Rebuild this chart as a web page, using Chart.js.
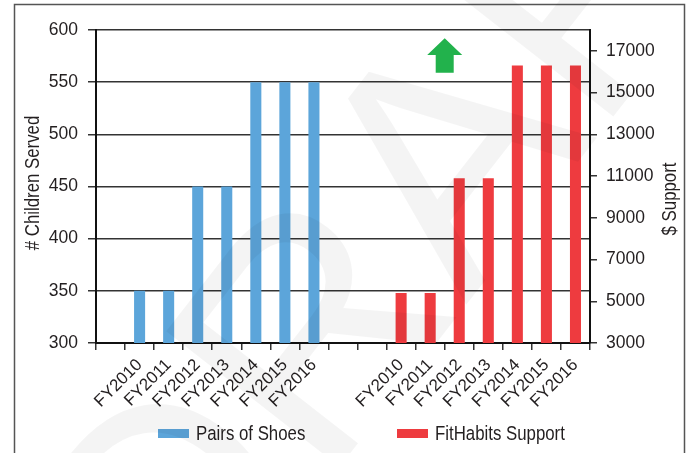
<!DOCTYPE html>
<html>
<head>
<meta charset="utf-8">
<script src="https://cdn.jsdelivr.net/npm/chart.js@4.4.1/dist/chart.umd.min.js"></script>
<style>
  html, body { margin: 0; padding: 0; background: #fff; }
</style>
</head>
<body>
<canvas id="chart" width="687" height="453"></canvas>
<script>
// chart data
const CATEGORIES = ['', 'FY2010', 'FY2011', 'FY2012', 'FY2013', 'FY2014', 'FY2015', 'FY2016', '', '',
  'FY2010', 'FY2011', 'FY2012', 'FY2013', 'FY2014', 'FY2015', 'FY2016'];
const SHOES = [null, 350, 350, 450, 450, 550, 550, 550, null, null,
  null, null, null, null, null, null, null];
const SUPPORT = [null, null, null, null, null, null, null, null, null, null,
  5400, 5400, 10900, 10900, 16300, 16300, 16300];
const LEFT_TICKS = [300, 350, 400, 450, 500, 550, 600];
const RIGHT_TICKS = [3000, 5000, 7000, 9000, 11000, 13000, 15000, 17000];
const SERIES_NAMES = ['Pairs of Shoes', 'FitHabits Support'];
const LEFT_TITLE = '# Children Served';
const RIGHT_TITLE = '$ Support';

const BLUE = '#5ca5da';
const RED = '#ee3b3f';
const GREEN = '#22b24c';
const INK = '#231f20';
const FONT = "'Liberation Sans', Arial, sans-serif";

Chart.defaults.font.family = FONT;
Chart.defaults.color = INK;

// text squeezed sideways, the source uses a narrow face
function narrowText(ctx, text, x, y, angle, align) {
  ctx.save();
  ctx.translate(x, y);
  ctx.rotate(angle);
  ctx.scale(0.82, 1);
  ctx.textAlign = align;
  ctx.textBaseline = 'middle';
  ctx.font = '20.5px ' + FONT;
  ctx.fillText(text, 0, 0);
  ctx.restore();
}

const decor = {
  id: 'decor',
  beforeDraw(chart) {
    const { ctx, width, height } = chart;
    ctx.save();
    ctx.fillStyle = '#fff';
    ctx.fillRect(0, 0, width, height);
    // outer frame (open at the bottom)
    ctx.strokeStyle = '#555';
    ctx.lineWidth = 1.5;
    ctx.beginPath();
    ctx.moveTo(14.5, height);
    ctx.lineTo(14.5, 4.5);
    ctx.lineTo(684.5, 4.5);
    ctx.lineTo(684.5, height);
    ctx.stroke();
    ctx.restore();
  },
  afterDraw(chart) {
    const { ctx } = chart;
    const x = chart.scales.x;
    const y = chart.scales.y;
    ctx.save();

    // axis titles, both reading bottom to top
    ctx.fillStyle = INK;
    narrowText(ctx, LEFT_TITLE, 33, 183, -Math.PI / 2, 'center');
    narrowText(ctx, RIGHT_TITLE, 670, 199, -Math.PI / 2, 'center');

    // green up arrow
    const cx = x.getPixelForValue(11.5);
    const tip = y.getPixelForValue(592);
    const base = y.getPixelForValue(576);
    const foot = y.getPixelForValue(559);
    ctx.fillStyle = GREEN;
    ctx.beginPath();
    ctx.moveTo(cx, tip);
    ctx.lineTo(cx + 17.5, base);
    ctx.lineTo(cx + 9, base);
    ctx.lineTo(cx + 9, foot);
    ctx.lineTo(cx - 9, foot);
    ctx.lineTo(cx - 9, base);
    ctx.lineTo(cx - 17.5, base);
    ctx.closePath();
    ctx.fill();

    // legend
    const legendX = [158, 397];
    chart.data.datasets.forEach((ds, i) => {
      ctx.fillStyle = ds.backgroundColor;
      ctx.fillRect(legendX[i], 429, 31, 9);
      ctx.fillStyle = INK;
      narrowText(ctx, ds.label, legendX[i] + 38, 434, 0, 'left');
    });

    // DRAFT watermark
    ctx.fillStyle = 'rgba(0,0,0,0.045)';
    ctx.font = '320px ' + FONT;
    ctx.textAlign = 'center';
    ctx.textBaseline = 'middle';
    ctx.translate(440, 195);
    ctx.rotate(-52 * Math.PI / 180);
    ctx.fillText('DRAFT', 0, 0);
    ctx.restore();
  }
};

new Chart(document.getElementById('chart'), {
  type: 'bar',
  data: {
    labels: CATEGORIES,
    datasets: [
      { label: SERIES_NAMES[0], data: SHOES, yAxisID: 'y', backgroundColor: BLUE },
      { label: SERIES_NAMES[1], data: SUPPORT, yAxisID: 'y1', backgroundColor: RED },
    ],
  },
  options: {
    responsive: false,
    animation: false,
    devicePixelRatio: 1,
    layout: { padding: { top: 30, bottom: 40, left: 0, right: 0 } },
    datasets: {
      bar: { grouped: false, barPercentage: 0.38, categoryPercentage: 1, borderWidth: 0 },
    },
    plugins: {
      legend: { display: false },
      tooltip: { enabled: false },
    },
    scales: {
      x: {
        grid: { drawOnChartArea: false, drawTicks: true, tickLength: 7, color: '#333', lineWidth: 1.5, offset: true },
        border: { display: true, color: '#111', width: 2 },
        ticks: { autoSkip: false, minRotation: 45, maxRotation: 45, padding: 5, color: INK, font: { size: 17 } },
        afterFit: (s) => { s.height = 70; },
      },
      y: {
        position: 'left',
        min: 300,
        max: 600,
        afterBuildTicks: (s) => { s.ticks = LEFT_TICKS.map((v) => ({ value: v })); },
        grid: { color: '#333', lineWidth: 1.5, tickLength: 8 },
        border: { display: true, color: '#111', width: 2 },
        ticks: { padding: 10, color: INK, font: { size: 17.5 } },
        afterFit: (s) => { s.width = 96; },
      },
      y1: {
        position: 'right',
        min: 3000,
        max: 18000,
        afterBuildTicks: (s) => { s.ticks = RIGHT_TICKS.map((v) => ({ value: v })); },
        grid: { drawOnChartArea: false, color: '#333', lineWidth: 1.5, tickLength: 7 },
        border: { display: true, color: '#111', width: 2 },
        ticks: { padding: 9, color: INK, font: { size: 17.5 }, callback: (v) => String(v) },
        afterFit: (s) => { s.width = 97; },
      },
    },
  },
  plugins: [decor],
});
</script>
</body>
</html>
